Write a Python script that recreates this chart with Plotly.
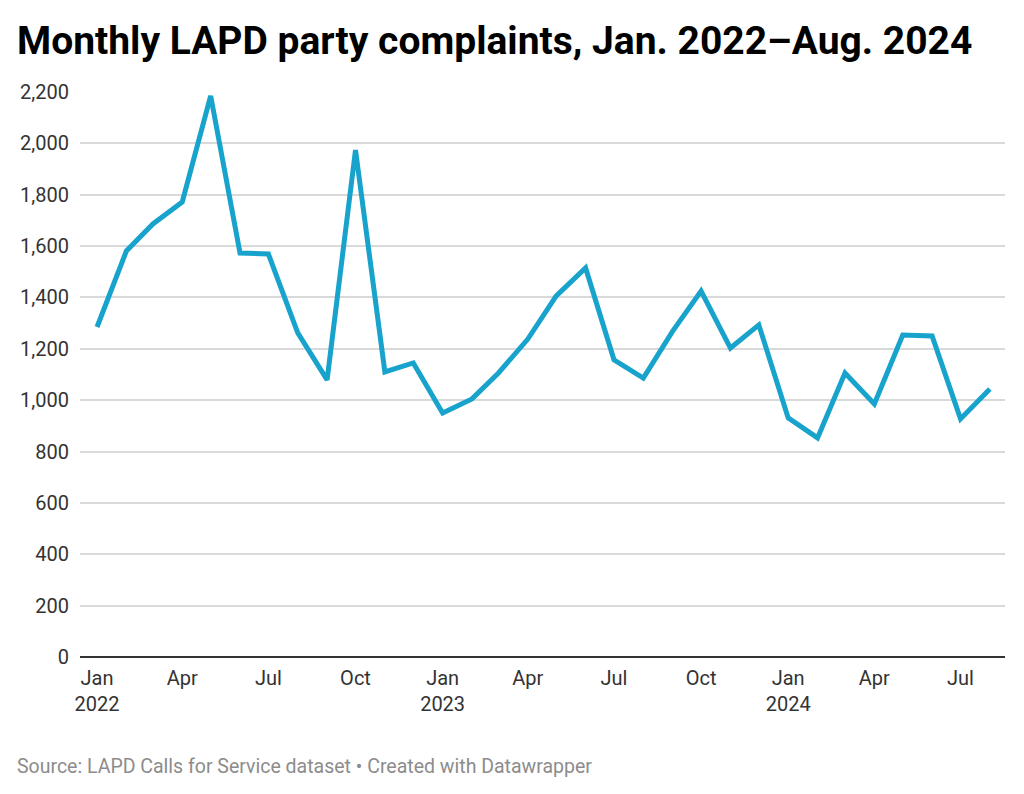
import plotly.graph_objects as go

months = ["2022-01-01","2022-02-01","2022-03-01","2022-04-01","2022-05-01","2022-06-01",
          "2022-07-01","2022-08-01","2022-09-01","2022-10-01","2022-11-01","2022-12-01",
          "2023-01-01","2023-02-01","2023-03-01","2023-04-01","2023-05-01","2023-06-01",
          "2023-07-01","2023-08-01","2023-09-01","2023-10-01","2023-11-01","2023-12-01",
          "2024-01-01","2024-02-01","2024-03-01","2024-04-01","2024-05-01","2024-06-01",
          "2024-07-01","2024-08-01"]
complaints = [1285, 1581, 1686, 1772, 2185, 1573,
              1569, 1262, 1079, 1974, 1110, 1145,
              950, 1005, 1106, 1238, 1406, 1515,
              1157, 1086, 1269, 1425, 1203, 1293,
              931, 853, 1106, 985, 1254, 1250,
              927, 1044]

x_tickvals = ["2022-01-01","2022-04-01","2022-07-01","2022-10-01",
              "2023-01-01","2023-04-01","2023-07-01","2023-10-01",
              "2024-01-01","2024-04-01","2024-07-01"]
x_ticktext = ["Jan<br>2022","Apr","Jul","Oct",
              "Jan<br>2023","Apr","Jul","Oct",
              "Jan<br>2024","Apr","Jul"]
y_tickvals = [0,200,400,600,800,1000,1200,1400,1600,1800,2000,2200]
y_ticktext = ["0","200","400","600","800","1,000","1,200","1,400","1,600","1,800","2,000","2,200"]

title = "Monthly LAPD party complaints, Jan. 2022\u2013Aug. 2024"
source = "Source: LAPD Calls for Service dataset \u2022 Created with Datawrapper"

fig = go.Figure()
fig.add_trace(go.Scatter(x=months, y=complaints, mode="lines",
                         line=dict(color="#18a3cc", width=5),
                         hoverinfo="skip", showlegend=False))

fig.update_layout(
    width=1016, height=786,
    margin=dict(l=72, r=19, t=84, b=137),
    paper_bgcolor="white", plot_bgcolor="white",
    font=dict(family="Roboto", color="#333333"),
    xaxis=dict(
        type="date",
        range=["2021-12-14", "2024-08-17"],
        tickvals=x_tickvals, ticktext=x_ticktext,
        tickfont=dict(size=20, color="#333333", family="Roboto"),
        showgrid=False, zeroline=False, showline=False,
        ticks="", ticklabelstandoff=7,
    ),
    yaxis=dict(
        range=[0, 2200],
        tickvals=y_tickvals, ticktext=y_ticktext,
        tickfont=dict(size=20, color="#333333", family="Roboto"),
        showgrid=True, gridcolor="#d9d9d9", gridwidth=1.5,
        zeroline=True, zerolinecolor="#333333", zerolinewidth=2,
        showline=False, ticks="", ticklabelstandoff=10,
    ),
    annotations=[
        dict(text="<b>" + title + "</b>", xref="paper", yref="paper",
             x=-65/925, y=1 + 76/565, xanchor="left", yanchor="top",
             showarrow=False, font=dict(family="Roboto", size=39, color="#000000")),
        dict(text=source, xref="paper", yref="paper",
             x=-65/925, y=-(753-657)/565, xanchor="left", yanchor="top",
             showarrow=False, font=dict(family="Roboto", size=19.5, color="#8c8c8c")),
    ],
)

fig.write_html("out.html")
